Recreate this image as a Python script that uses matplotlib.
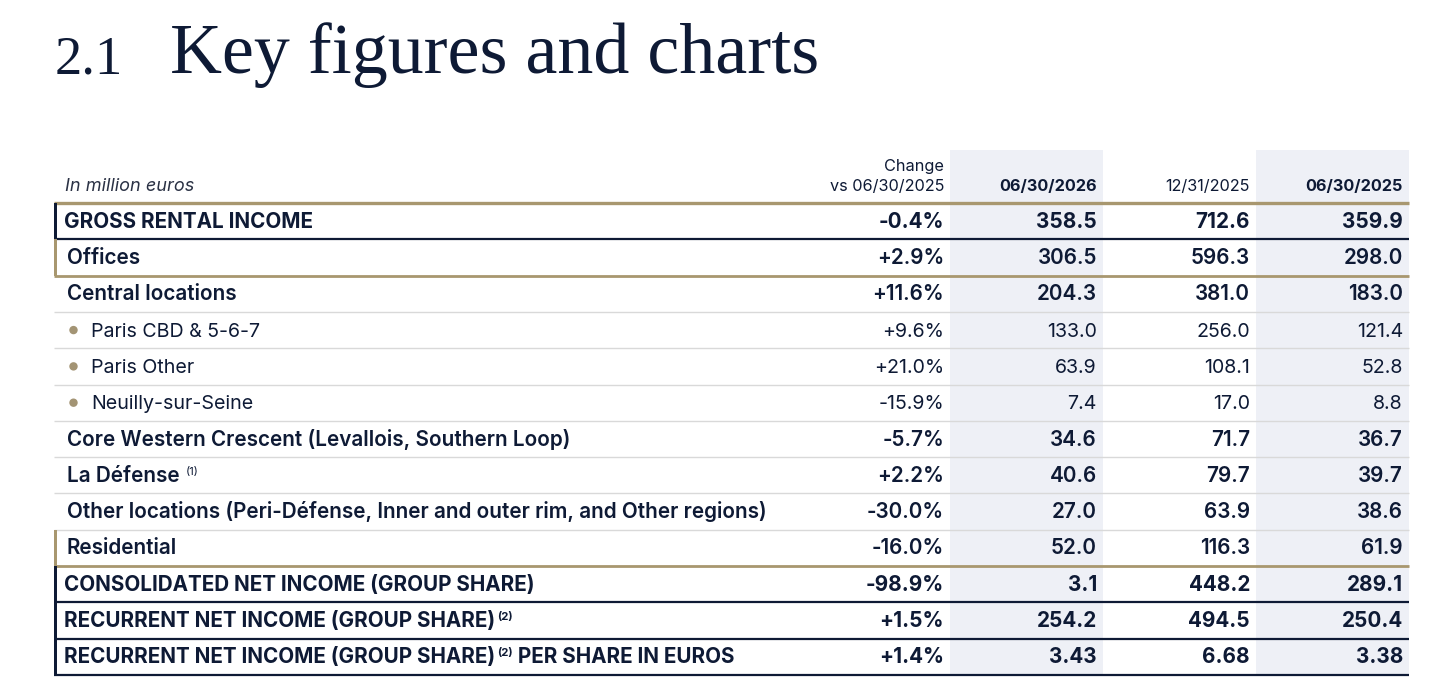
import matplotlib
matplotlib.use("Agg")
import matplotlib.pyplot as plt
from matplotlib.patches import Rectangle, Circle

# ---------------- data ----------------
title_num = "2.1"
title_text = "Key figures and charts"
unit_label = "In million euros"
change_header = ["Change", "vs 06/30/2025"]
period_headers = ["06/30/2026", "12/31/2025", "06/30/2025"]
period_header_bold = [True, False, True]

row_labels = [
    "GROSS RENTAL INCOME",
    "Offices",
    "Central locations",
    "Paris CBD & 5-6-7",
    "Paris Other",
    "Neuilly-sur-Seine",
    "Core Western Crescent (Levallois, Southern Loop)",
    "La Défense",
    "Other locations (Peri-Défense, Inner and outer rim, and Other regions)",
    "Residential",
    "CONSOLIDATED NET INCOME (GROUP SHARE)",
    "RECURRENT NET INCOME (GROUP SHARE)",
    "RECURRENT NET INCOME (GROUP SHARE)",
]
row_notes = ["", "", "", "", "", "", "", "(1)", "", "", "", "(2)", "(2)"]
row_suffix = [""] * 12 + [" PER SHARE IN EUROS"]
row_kind = ["total", "segment", "sub", "bullet", "bullet", "bullet",
            "sub", "sub", "sub", "segment", "total", "total", "total"]

change_pct = [-0.4, 2.9, 11.6, 9.6, 21.0, -15.9, -5.7, 2.2, -30.0, -16.0, -98.9, 1.5, 1.4]
h1_2026 = [358.5, 306.5, 204.3, 133.0, 63.9, 7.4, 34.6, 40.6, 27.0, 52.0, 3.1, 254.2, 3.43]
fy_2025 = [712.6, 596.3, 381.0, 256.0, 108.1, 17.0, 71.7, 79.7, 63.9, 116.3, 448.2, 494.5, 6.68]
h1_2025 = [359.9, 298.0, 183.0, 121.4, 52.8, 8.8, 36.7, 39.7, 38.6, 61.9, 289.1, 250.4, 3.38]
decimals = [1] * 12 + [2]

# ---------------- style ----------------
NAVY = "#0e1a35"
GOLD = "#a8976f"
BULLET = "#a39474"
LIGHT = "#d9d9d9"
SHADE = "#eef0f6"
FONT = ["Inter", "DejaVu Sans"]
SERIF = "Liberation Serif"

W, H, DPI = 1456, 695, 100
fig = plt.figure(figsize=(W / DPI, H / DPI), dpi=DPI)
ax = fig.add_axes([0, 0, 1, 1])
ax.set_xlim(0, W)
ax.set_ylim(H, 0)
ax.axis("off")
renderer = fig.canvas.get_renderer()


def text_width(s, size, **kw):
    t = ax.text(0, 100, s, fontsize=size, **kw)
    w = t.get_window_extent(renderer).width
    t.remove()
    return w


def fit(s, target, **kw):
    return 12 * target / text_width(s, 12, **kw)


weight_of = {"total": "bold", "segment": "semibold", "sub": "semibold", "bullet": "normal"}

# font sizes fitted to reference widths
size_total = fit("CONSOLIDATED NET INCOME (GROUP SHARE)", 471, family=FONT, fontweight="bold")
size_semi = fit(row_labels[8], 703, family=FONT, fontweight="semibold")
size_reg = fit("Paris CBD & 5-6-7", 170, family=FONT)
size_of = {"total": size_total, "segment": size_semi, "sub": size_semi, "bullet": size_reg}
num_size_of = {"total": size_semi, "segment": size_semi, "sub": size_semi, "bullet": size_reg}
size_head = fit("vs 06/30/2025", 115, family=FONT)
size_unit = fit(unit_label, 129, family=FONT, style="italic")
size_title = fit(title_text, 648, family=SERIF)

# ---------------- layout ----------------
x_left, x_right = 54, 1409
y_top, y_bot = 203, 675
n = len(row_labels)
rh = (y_bot - y_top) / n
col_right = [944, 1097, 1250, 1403]
shade_cols = [(950, 1103), (1256, 1409)]

# title
ax.text(55, 73, title_num, fontsize=size_title * 0.76, family=SERIF, color=NAVY, va="baseline")
ax.text(170, 73, title_text, fontsize=size_title, family=SERIF, color=NAVY, va="baseline")

# shaded columns
for x0, x1 in shade_cols:
    ax.add_patch(Rectangle((x0, 150), x1 - x0, y_bot - 150, color=SHADE, lw=0, zorder=0))

# header
ax.text(65, 191, unit_label, fontsize=size_unit, family=FONT, style="italic", color="#2b3245", va="baseline")
ax.text(col_right[0], 171, change_header[0], fontsize=size_head, family=FONT, color=NAVY, ha="right", va="baseline")
ax.text(col_right[0], 191, change_header[1], fontsize=size_head, family=FONT, color=NAVY, ha="right", va="baseline")
for j, h in enumerate(period_headers):
    ax.text(col_right[j + 1], 191, h, fontsize=size_head, family=FONT, color=NAVY, ha="right", va="baseline",
            fontweight="bold" if period_header_bold[j] else "normal")

# header bottom rule
ax.plot([x_left, x_right], [y_top, y_top], color=GOLD, lw=2.4, solid_capstyle="butt", zorder=3)

columns = [change_pct, h1_2026, fy_2025, h1_2025]
for i in range(n):
    kind = row_kind[i]
    y0 = y_top + i * rh
    y1 = y0 + rh
    yc = (y0 + y1) / 2
    base = yc + 6.5
    fw = weight_of[kind]
    fs = size_of[kind]

    # bottom rule
    if kind == "total":
        ax.plot([x_left, x_right], [y1, y1], color=NAVY, lw=1.6, solid_capstyle="butt", zorder=3)
    elif kind == "segment":
        ax.plot([x_left, x_right], [y1, y1], color=GOLD, lw=2.0, solid_capstyle="butt", zorder=3)
    else:
        ax.plot([x_left, x_right], [y1, y1], color=LIGHT, lw=1.0, solid_capstyle="butt", zorder=2)

    # left bar
    if kind == "total":
        ax.add_patch(Rectangle((x_left, y0), 3, rh, color=NAVY, lw=0, zorder=4))
    elif kind == "segment":
        ax.add_patch(Rectangle((x_left, y0), 3, rh, color=GOLD, lw=0, zorder=4))

    # label
    if kind == "total":
        lx = 64
    elif kind == "bullet":
        lx = 91
        ax.add_patch(Circle((73.5, yc), 4.2, color=BULLET, lw=0, zorder=4))
    else:
        lx = 67
    t = ax.text(lx, base, row_labels[i], fontsize=fs, family=FONT, fontweight=fw, color=NAVY, va="baseline")
    if row_notes[i]:
        ex = t.get_window_extent(renderer).x1
        gap = 6 if kind != "total" else 2
        t2 = ax.text(ex + gap, base - 7, row_notes[i], fontsize=fs * 0.55, family=FONT,
                     fontweight="normal" if kind != "total" else "bold", color=NAVY, va="baseline")
        if row_suffix[i]:
            ex2 = t2.get_window_extent(renderer).x1
            ax.text(ex2, base, row_suffix[i], fontsize=fs, family=FONT, fontweight=fw, color=NAVY, va="baseline")

    # values
    for j, col in enumerate(columns):
        v = col[i]
        if j == 0:
            s = f"{v:+.1f}%"
        else:
            s = f"{v:.{decimals[i]}f}"
        ax.text(col_right[j], base, s, fontsize=num_size_of[kind], family=FONT, fontweight=fw, color=NAVY,
                ha="right", va="baseline")

fig.savefig("out.png", dpi=DPI)
